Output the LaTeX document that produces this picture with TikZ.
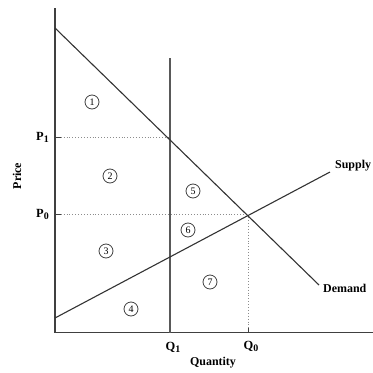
\documentclass[tikz,border=0pt]{standalone}
\usepackage{fontspec}
\setmainfont{Liberation Serif}
\newcommand{\subs}[1]{\raisebox{-0.35ex}{\fontsize{10}{10}\selectfont #1}}
\begin{document}
\begin{tikzpicture}[x=1bp,y=-1bp,
  line/.style={draw=black!80,line width=1.1bp},
  axis/.style={draw=black!75,line width=1.3bp},
  guide/.style={draw=black!45,line width=0.9bp,dotted},
  lbl/.style={font=\bfseries\fontsize{12.5}{12.5}\selectfont,inner sep=1bp},
  small/.style={font=\bfseries\fontsize{12}{12}\selectfont},
  region/.style={circle,draw=black!75,line width=0.8bp,inner sep=0pt,minimum size=14bp,font=\fontsize{10}{10}\selectfont}]
\useasboundingbox (0,0) rectangle (373,373);
% key points
\coordinate (ytop) at (55,8);
\coordinate (O) at (55,332.5);
\coordinate (xend) at (373,332.5);
\coordinate (dA) at (55,28);
\coordinate (dB) at (319,285);
\coordinate (sA) at (55,318);
\coordinate (sB) at (330,172);
\coordinate (q1top) at (170,58);
\coordinate (q1bot) at (170,332.5);
\coordinate (p1y) at (55,137);
\coordinate (p1x) at (170,137);
\coordinate (p0y) at (55,214.5);
\coordinate (E) at (248,214.5);
\coordinate (q0bot) at (248,332.5);
% axes
\draw[axis] (ytop) -- (O) -- (xend);
% guides
\draw[guide] (p1y) -- (p1x);
\draw[guide] (p0y) -- (E);
\draw[guide] (E) -- (q0bot);
\draw[axis,line width=1bp] (p1y) -- ++(6,0);
\draw[axis,line width=1bp] (p0y) -- ++(6,0);
\draw[axis,line width=1bp] (q0bot) -- ++(0,-5);
% Q1 vertical
\draw[line,draw=black!65] (q1top) -- (q1bot);
% demand & supply
\draw[line] (dA) -- (dB);
\draw[line] (sA) -- (sB);
% labels
\node[lbl,anchor=east] (P1) at (50,137) {P\subs{1}};
\node[lbl,anchor=east] (P0) at (50,214.5) {P\subs{0}};
\node[lbl] (Q1) at (173,347) {Q\subs{1}};
\node[lbl] (Q0) at (251,346) {Q\subs{0}};
\node[lbl,small] (qty) at (213,363) {Quantity};
\node[lbl,small,rotate=90] (price) at (17,176) {Price};
\node[lbl,small,anchor=west] (supply) at (334,166) {Supply};
\node[lbl,small,anchor=west] (demand) at (322,288) {Demand};
% regions
\node[region] (r1) at (92,102) {1};
\node[region] (r2) at (110,176) {2};
\node[region] (r3) at (106,251) {3};
\node[region] (r4) at (131,309) {4};
\node[region] (r5) at (193,191) {5};
\node[region] (r6) at (188,230) {6};
\node[region] (r7) at (210,282) {7};
\end{tikzpicture}
\end{document}
